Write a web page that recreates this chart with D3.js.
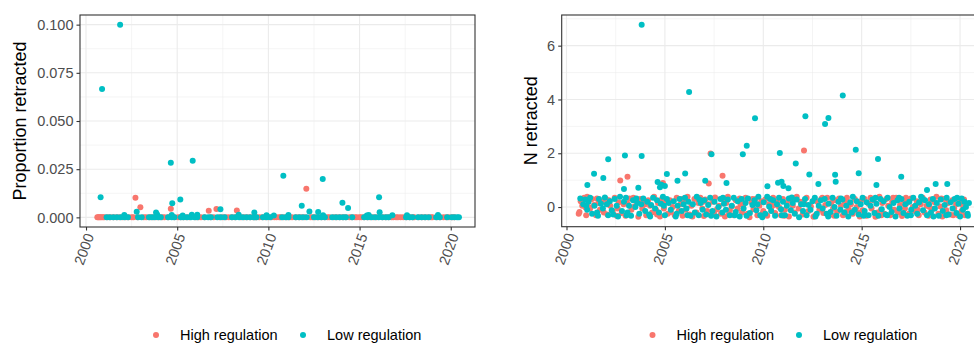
<!DOCTYPE html>
<html><head><meta charset="utf-8">
<script src="https://cdn.jsdelivr.net/npm/d3@7"></script>
<style>
html,body{margin:0;padding:0;background:#fff;}
svg{display:block;font-family:"Liberation Sans",Arial,Helvetica,sans-serif;}
</style></head>
<body><svg id="chart" width="974" height="343"></svg>
<script>
// ---------------- DATA ----------------
const groups = ["High regulation", "Low regulation"];
const groupColors = ["#F8766D", "#00BFC4"];

// Left panel: proportion retracted (nonzero observations)
const highPropPoints = [[2002.71,0.0102],[2002.98,0.0052],[2004.65,0.0045],[2006.73,0.0034],[2007.15,0.0043],[2008.27,0.0036],[2012.08,0.0149]];
const lowPropPoints = [[2001.87,0.100],[2000.88,0.0666],[2000.80,0.0104],[2004.65,0.0284],[2005.85,0.0294],[2010.82,0.0216],[2012.98,0.0199],[2016.07,0.0105],[2004.73,0.0073],[2005.17,0.0093],[2011.83,0.0060],[2014.06,0.0076],[2014.37,0.0048],[2002.78,0.0029],[2007.37,0.0042],[2012.25,0.0030],[2012.73,0.0028],[2016.10,0.0027],[2003.84,0.0025],[2009.23,0.0025],[2002.10,0.0012],[2003.90,0.0015],[2004.70,0.0012],[2005.30,0.0010],[2005.80,0.0013],[2006.10,0.0014],[2008.37,0.0013],[2009.90,0.0011],[2010.30,0.0010],[2011.10,0.0012],[2013.00,0.0011],[2015.40,0.0010],[2015.50,0.0012],[2016.80,0.0011],[2017.60,0.0011],[2019.30,0.0012]];
// Left panel: observations with proportion 0
const highZeroYears = [2000.62,2000.67,2000.72,2000.78,2000.85,2000.93,2001.0,2001.17,2001.33,2001.5,2001.67,2001.83,2002.0,2002.17,2002.33,2002.5,2002.6,2002.83,2003.17,2003.3,2003.5,2003.67,2003.83,2004.0,2004.17,2004.3,2004.5,2004.83,2005.05,2005.17,2005.33,2005.5,2005.67,2006.0,2006.17,2006.3,2006.5,2006.83,2007.0,2007.33,2007.5,2007.67,2007.83,2008.0,2008.17,2008.5,2008.67,2008.83,2009.0,2009.17,2009.33,2009.5,2009.67,2009.83,2010.0,2010.17,2010.33,2010.45,2010.6,2010.67,2010.83,2011.0,2011.17,2011.3,2011.5,2011.67,2011.83,2012.0,2012.3,2012.42,2012.58,2012.75,2012.92,2013.08,2013.25,2013.35,2013.58,2013.75,2013.92,2014.08,2014.25,2014.45,2014.58,2014.75,2014.85,2015.0,2015.1,2015.25,2015.42,2015.58,2015.75,2015.92,2016.25,2016.42,2016.58,2016.75,2016.85,2017.0,2017.1,2017.25,2017.4,2017.58,2017.75,2017.92,2018.0,2018.25,2018.42,2018.58,2018.75,2018.92,2019.0,2019.25,2019.42,2019.6,2019.75,2019.9,2020.08,2020.2];
const lowZeroYears = [2001.13,2001.3,2001.5,2001.7,2001.9,2002.1,2002.3,2002.85,2003.05,2003.45,2003.6,2003.75,2003.95,2004.1,2004.5,2004.7,2004.85,2005.2,2005.35,2005.55,2005.75,2005.95,2006.1,2006.5,2006.7,2006.85,2007.2,2007.4,2007.6,2008.0,2008.2,2008.4,2008.6,2008.8,2009.0,2009.2,2009.35,2009.7,2009.9,2010.1,2010.75,2010.95,2011.1,2011.5,2011.7,2011.9,2012.1,2012.5,2012.7,2012.9,2013.1,2013.5,2013.7,2013.9,2014.1,2014.25,2014.6,2015.25,2015.45,2015.65,2015.85,2016.05,2016.25,2016.45,2016.6,2017.55,2017.75,2017.9,2018.2,2018.4,2018.6,2018.8,2019.2,2019.4,2019.8,2020.05,2020.2,2020.35,2020.45];

// Right panel: N retracted (jittered positions as drawn)
const highCountPoints = [[2012.07,2.10],[2007.32,1.99],[2007.93,1.16],[2003.10,1.13],[2002.73,0.99],[2004.90,0.89],[2007.23,0.88],
[2000.62,-0.25],[2000.66,-0.18],[2000.72,0.22],[2000.8,0.05],[2000.9,0.35],[2000.97,-0.02],
[2001.05,0.38],[2001.12,0.0],[2001.2,-0.05],[2001.3,0.3],[2001.4,0.08],[2001.5,-0.3],[2001.62,0.15],[2001.7,-0.1],[2001.8,0.2],[2001.9,-0.2],
[2002.0,0.3],[2002.08,-0.28],[2002.15,0.25],[2002.22,0.05],[2002.35,-0.15],[2002.45,0.35],[2002.55,-0.32],[2002.65,0.18],[2002.8,-0.22],[2002.9,0.1],
[2003.0,-0.32],[2003.1,0.12],[2003.2,0.32],[2003.3,-0.1],[2003.45,0.02],[2003.55,0.22],[2003.65,-0.36],[2003.75,0.3],[2003.85,-0.05],[2003.95,0.2],
[2004.05,-0.3],[2004.15,0.25],[2004.25,0.05],[2004.35,-0.2],[2004.45,0.38],[2004.55,-0.1],[2004.65,0.15],[2004.75,-0.35],[2004.85,0.3],[2004.95,-0.05],
[2005.05,0.2],[2005.15,-0.25],[2005.25,0.25],[2005.4,0.0],[2005.5,-0.3],[2005.6,0.35],[2005.7,-0.15],[2005.8,0.1],[2005.9,-0.32],[2005.98,0.22],
[2006.05,-0.1],[2006.15,0.38],[2006.25,-0.28],[2006.35,0.05],[2006.5,0.3],[2006.6,-0.2],[2006.7,0.15],[2006.8,0.35],[2006.9,-0.05],[2006.98,-0.33],
[2007.05,0.28],[2007.15,-0.15],[2007.22,0.1],[2007.35,-0.3],[2007.45,0.2],[2007.55,0.36],[2007.65,-0.08],[2007.75,0.05],[2007.85,-0.25],[2007.95,0.3],
[2008.05,-0.35],[2008.12,0.15],[2008.2,0.38],[2008.3,-0.12],[2008.4,0.02],[2008.5,-0.3],[2008.6,0.25],[2008.7,-0.05],[2008.8,0.32],[2008.92,-0.2],
[2009.0,0.1],[2009.1,0.35],[2009.2,-0.25],[2009.3,-0.38],[2009.4,0.18],[2009.5,-0.08],[2009.6,0.3],[2009.7,-0.3],[2009.8,0.05],[2009.9,0.22],
[2010.0,-0.15],[2010.1,0.28],[2010.2,-0.32],[2010.3,0.1],[2010.4,-0.05],[2010.5,0.35],[2010.6,-0.22],[2010.7,0.2],[2010.8,0.0],[2010.9,-0.3],
[2011.0,0.3],[2011.1,-0.1],[2011.2,0.15],[2011.3,-0.35],[2011.4,0.25],[2011.5,0.05],[2011.6,-0.2],[2011.7,0.38],[2011.8,-0.05],[2011.9,0.2],
[2012.0,-0.28],[2012.1,0.12],[2012.2,0.35],[2012.3,-0.15],[2012.42,0.02],[2012.55,-0.36],[2012.65,-0.3],[2012.75,0.2],[2012.85,-0.1],[2012.95,0.3],
[2013.05,-0.22],[2013.15,0.08],[2013.25,0.35],[2013.35,-0.3],[2013.45,0.15],[2013.55,-0.05],[2013.65,0.25],[2013.75,-0.18],[2013.85,0.32],[2013.95,0.05],
[2014.05,-0.3],[2014.15,0.2],[2014.25,0.35],[2014.35,-0.1],[2014.45,0.1],[2014.55,-0.25],[2014.65,0.3],[2014.75,0.0],[2014.85,-0.2],[2014.95,0.22],
[2015.05,-0.12],[2015.15,0.3],[2015.25,-0.32],[2015.35,0.12],[2015.5,-0.05],[2015.6,0.25],[2015.7,-0.36],[2015.8,-0.2],[2015.9,0.38],[2015.98,-0.1],
[2016.05,0.15],[2016.15,-0.25],[2016.25,0.3],[2016.35,0.05],[2016.45,-0.3],[2016.55,0.2],[2016.65,-0.1],[2016.75,0.35],[2016.85,-0.2],[2016.95,0.08],
[2017.05,-0.33],[2017.12,0.25],[2017.2,-0.05],[2017.3,0.15],[2017.4,-0.25],[2017.5,0.32],[2017.6,0.0],[2017.7,-0.15],[2017.8,0.22],[2017.9,-0.3],
[2018.0,0.1],[2018.1,0.35],[2018.2,-0.2],[2018.3,0.05],[2018.4,-0.32],[2018.5,0.28],[2018.6,-0.08],[2018.7,0.18],[2018.8,0.38],[2018.9,-0.25],
[2019.0,0.02],[2019.1,-0.35],[2019.2,0.3],[2019.3,-0.12],[2019.4,0.15],[2019.5,-0.28],[2019.6,0.25],[2019.7,-0.05],[2019.8,0.1],[2019.9,-0.3],
[2020.0,0.2],[2020.08,-0.15],[2020.15,0.05],[2020.25,-0.3],
[2001.0,-0.3],[2001.55,0.32],[2002.6,-0.05],[2003.4,0.35],[2004.0,0.1],[2004.6,-0.28],[2005.3,-0.18],[2005.85,0.3],[2006.4,-0.35],[2006.95,0.2],[2007.5,-0.2],[2008.25,-0.28],[2008.85,0.1],[2009.45,0.3],[2009.95,-0.25],[2010.55,0.08],[2011.05,-0.32],[2011.55,0.32],[2012.6,0.28],[2013.0,0.35],[2013.6,-0.32],[2014.2,-0.18],[2014.9,-0.35],[2015.45,0.35],[2016.0,-0.3],[2016.6,0.35],[2017.25,0.35],[2017.85,-0.1],[2018.45,0.0],[2019.05,0.32],[2019.65,-0.3],[2020.2,0.28]];

const lowCountPoints = [[2003.82,6.78],[2006.23,4.28],[2014.04,4.15],[2009.58,3.30],[2012.14,3.38],[2013.14,3.09],[2013.31,3.31],[2009.16,2.28],[2008.96,1.96],[2007.37,1.96],[2010.84,2.01],[2014.70,2.13],[2002.97,1.92],[2003.82,1.90],[2002.12,1.78],[2015.83,1.79],[2011.65,1.62],
[2001.40,1.24],[2001.87,1.08],[2001.06,0.82],[2002.92,0.67],[2003.65,0.72],[2005.10,1.23],[2006.03,1.25],[2005.64,0.98],[2004.63,0.93],[2004.82,0.83],[2005.0,0.78],[2004.75,0.74],[2007.05,0.98],[2008.13,0.89],[2010.21,0.77],[2010.75,0.90],[2010.93,0.94],[2011.02,0.78],[2011.28,0.70],[2012.34,1.21],[2012.80,0.86],[2013.65,1.20],[2013.68,0.94],[2014.85,1.26],[2015.75,0.82],[2017.01,1.13],[2018.32,0.63],[2018.76,0.86],[2019.35,0.86],
[2000.7,0.32],[2000.85,0.1],[2000.95,0.28],
[2001.05,-0.1],[2001.12,0.2],[2001.2,0.35],[2001.3,-0.25],[2001.42,0.05],[2001.55,-0.2],[2001.65,0.3],[2001.75,0.12],[2001.85,-0.05],[2001.95,0.36],
[2002.05,0.1],[2002.12,-0.3],[2002.2,0.22],[2002.3,-0.12],[2002.45,0.3],[2002.55,0.05],[2002.62,-0.35],[2002.72,0.38],[2002.82,-0.15],[2002.92,0.2],
[2003.02,0.35],[2003.1,-0.2],[2003.18,0.05],[2003.28,-0.32],[2003.38,0.25],[2003.5,0.0],[2003.6,0.15],[2003.7,-0.25],[2003.8,0.1],[2003.9,0.32],
[2004.0,-0.15],[2004.1,0.2],[2004.2,-0.28],[2004.3,0.08],[2004.4,0.35],[2004.5,-0.05],[2004.6,0.25],[2004.7,-0.2],[2004.8,0.12],[2004.9,0.38],
[2005.0,-0.3],[2005.1,0.3],[2005.2,0.15],[2005.3,-0.1],[2005.45,0.22],[2005.55,-0.35],[2005.65,0.05],[2005.75,0.3],[2005.85,-0.15],[2005.95,0.1],
[2006.02,0.35],[2006.1,-0.05],[2006.2,0.2],[2006.3,-0.32],[2006.42,0.1],[2006.52,-0.2],[2006.62,0.38],[2006.72,-0.3],[2006.82,0.15],[2006.92,-0.1],
[2007.0,0.25],[2007.1,-0.28],[2007.2,0.08],[2007.3,0.35],[2007.42,-0.15],[2007.52,0.2],[2007.62,-0.35],[2007.72,0.0],[2007.82,0.3],[2007.92,-0.2],
[2008.0,0.12],[2008.1,-0.1],[2008.2,0.28],[2008.3,-0.3],[2008.4,0.05],[2008.5,0.35],[2008.6,-0.18],[2008.7,0.22],[2008.8,-0.35],[2008.9,0.3],
[2009.0,-0.05],[2009.1,0.15],[2009.22,0.32],[2009.32,-0.22],[2009.45,0.08],[2009.55,0.25],[2009.65,-0.12],[2009.75,0.38],[2009.85,-0.3],[2009.95,-0.38],
[2010.02,0.18],[2010.1,-0.25],[2010.2,0.38],[2010.3,0.02],[2010.4,-0.15],[2010.5,0.25],[2010.6,-0.32],[2010.7,0.1],[2010.8,0.35],[2010.9,-0.08],
[2011.0,0.2],[2011.1,-0.3],[2011.2,0.05],[2011.3,0.32],[2011.4,-0.12],[2011.5,0.15],[2011.6,-0.25],[2011.7,0.28],[2011.82,-0.38],[2011.92,0.1],
[2012.02,-0.15],[2012.12,0.3],[2012.2,-0.3],[2012.3,0.08],[2012.4,-0.1],[2012.5,0.22],[2012.62,0.35],[2012.72,-0.25],[2012.82,0.05],[2012.92,0.25],
[2013.02,-0.05],[2013.12,0.3],[2013.22,-0.25],[2013.32,0.12],[2013.42,-0.18],[2013.52,0.35],[2013.62,0.0],[2013.72,-0.32],[2013.82,0.2],[2013.92,-0.1],
[2014.02,0.28],[2014.12,-0.2],[2014.22,0.05],[2014.32,-0.35],[2014.42,0.18],[2014.55,0.38],[2014.65,-0.1],[2014.75,0.22],[2014.85,-0.28],[2014.95,0.1],
[2015.05,0.35],[2015.15,-0.15],[2015.25,0.18],[2015.35,-0.3],[2015.45,0.05],[2015.55,0.28],[2015.65,-0.22],[2015.75,0.12],[2015.85,-0.32],[2015.95,0.3],
[2016.02,-0.08],[2016.12,0.22],[2016.22,-0.28],[2016.32,0.35],[2016.42,0.0],[2016.52,-0.18],[2016.62,0.15],[2016.72,-0.35],[2016.82,0.25],[2016.92,-0.05],
[2017.02,0.3],[2017.12,-0.22],[2017.22,0.1],[2017.32,-0.32],[2017.42,0.2],[2017.52,-0.1],[2017.62,0.35],[2017.72,0.05],[2017.82,-0.25],[2017.92,0.18],
[2018.02,0.38],[2018.12,-0.12],[2018.22,0.25],[2018.32,-0.3],[2018.42,0.1],[2018.52,-0.2],[2018.62,0.3],[2018.72,-0.05],[2018.82,0.15],[2018.92,-0.32],
[2019.02,0.28],[2019.12,-0.15],[2019.22,0.08],[2019.32,0.35],[2019.42,-0.28],[2019.52,0.18],[2019.62,-0.05],[2019.72,0.3],[2019.82,-0.22],[2019.92,0.12],
[2020.0,-0.35],[2020.08,0.32],[2020.15,-0.1],[2020.22,0.2],[2020.3,0.0],[2020.38,-0.25],[2020.45,0.15],
[2001.0,0.05],[2001.6,-0.32],[2002.38,-0.28],[2003.05,-0.3],[2003.55,0.32],[2004.25,-0.35],[2004.95,0.05],[2005.6,-0.25],[2006.15,-0.3],[2006.75,0.28],[2007.35,-0.32],[2007.95,0.35],[2008.55,-0.3],[2009.15,-0.32],[2009.7,0.1],[2010.35,0.3],[2010.95,-0.3],[2011.45,0.36],[2012.05,0.1],[2012.65,-0.35],[2013.3,-0.35],[2013.95,0.32],[2014.5,-0.2],[2015.1,-0.32],[2015.7,0.35],[2016.3,-0.3],[2016.9,0.35],[2017.5,-0.3],[2018.1,0.3],[2018.65,-0.35],[2019.3,-0.3],[2019.85,0.35],[2020.4,-0.32]];

const xTicks = [2000, 2005, 2010, 2015, 2020];
const xMinorTicks = [2002.5, 2007.5, 2012.5, 2017.5];
const leftYTicks = [0, 0.025, 0.05, 0.075, 0.1];
const leftYMinor = [0.0125, 0.0375, 0.0625, 0.0875];
const rightYTicks = [0, 2, 4, 6];
const rightYMinor = [1, 3, 5, 7];

// ---------------- DRAW ----------------
const svg = d3.select("#chart");
const FONT_TICK = 14.5, FONT_TITLE = 18, FONT_LEG = 14.5;

function panel(cfg) {
  const g = svg.append("g");
  const x = d3.scaleLinear().domain(cfg.xDomain).range([cfg.x0, cfg.x1]);
  const y = d3.scaleLinear().domain(cfg.yDomain).range([cfg.y1, cfg.y0]);
  const clipId = "clip" + cfg.id;
  svg.append("defs").append("clipPath").attr("id", clipId)
    .append("rect").attr("x", cfg.x0).attr("y", cfg.y0).attr("width", cfg.x1 - cfg.x0).attr("height", cfg.y1 - cfg.y0);
  const grid = g.append("g").attr("clip-path", `url(#${clipId})`);
  grid.selectAll(".ym").data(cfg.yMinor).join("line")
    .attr("x1", cfg.x0).attr("x2", cfg.x1).attr("y1", d => y(d)).attr("y2", d => y(d))
    .attr("stroke", "#EBEBEB").attr("stroke-width", 0.55);
  grid.selectAll(".xm").data(xMinorTicks).join("line")
    .attr("y1", cfg.y0).attr("y2", cfg.y1).attr("x1", d => x(d)).attr("x2", d => x(d))
    .attr("stroke", "#EBEBEB").attr("stroke-width", 0.55);
  grid.selectAll(".yM").data(cfg.yTicks).join("line")
    .attr("x1", cfg.x0).attr("x2", cfg.x1).attr("y1", d => y(d)).attr("y2", d => y(d))
    .attr("stroke", "#EBEBEB").attr("stroke-width", 1.1);
  grid.selectAll(".xM").data(xTicks).join("line")
    .attr("y1", cfg.y0).attr("y2", cfg.y1).attr("x1", d => x(d)).attr("x2", d => x(d))
    .attr("stroke", "#EBEBEB").attr("stroke-width", 1.1);

  const pts = g.append("g");
  cfg.series.forEach((s, i) => {
    pts.append("g").selectAll("circle").data(s).join("circle")
      .attr("cx", d => x(d[0])).attr("cy", d => y(d[1])).attr("r", 3)
      .attr("fill", groupColors[cfg.seriesGroup[i]]);
  });

  g.append("rect").attr("x", cfg.x0).attr("y", cfg.y0)
    .attr("width", cfg.x1 - cfg.x0).attr("height", cfg.y1 - cfg.y0)
    .attr("fill", "none").attr("stroke", "#333333").attr("stroke-width", 1.1);

  const yAxis = d3.axisLeft(y).tickValues(cfg.yTicks).tickFormat(cfg.yFormat).tickSize(3.5).tickPadding(3);
  const ya = g.append("g").attr("transform", `translate(${cfg.x0},0)`).call(yAxis);
  ya.select(".domain").remove();
  ya.selectAll("line").attr("stroke", "#333333").attr("stroke-width", 1.1);
  ya.selectAll("text").attr("fill", "#4D4D4D").style("font-size", FONT_TICK + "px")
    .style("font-family", '"Liberation Sans",Arial,sans-serif');

  const xAxis = d3.axisBottom(x).tickValues(xTicks).tickFormat(d3.format("d")).tickSize(3.5);
  const xa = g.append("g").attr("transform", `translate(0,${cfg.y1})`).call(xAxis);
  xa.select(".domain").remove();
  xa.selectAll("line").attr("stroke", "#333333").attr("stroke-width", 1.1);
  xa.selectAll("text").attr("fill", "#4D4D4D").style("font-size", FONT_TICK + "px")
    .style("font-family", '"Liberation Sans",Arial,sans-serif')
    .attr("y", null).attr("dy", "0.35em").attr("text-anchor", "end")
    .attr("transform", "translate(3,7) rotate(-70)");

  svg.append("text").attr("transform", `translate(${cfg.titleX},${(cfg.y0 + cfg.y1) / 2}) rotate(-90)`)
    .attr("text-anchor", "middle").attr("dy", "0.35em").style("font-size", FONT_TITLE + "px")
    .attr("fill", "#000").text(cfg.title);

  const lg = svg.append("g");
  groups.forEach((name, i) => {
    lg.append("circle").attr("cx", cfg.legX[i]).attr("cy", 335).attr("r", 3).attr("fill", groupColors[i]);
    lg.append("text").attr("x", cfg.legX[i] + 24).attr("y", 335).attr("dy", "0.35em")
      .style("font-size", FONT_LEG + "px").attr("fill", "#000").text(name);
  });
}

const highZeroPts = highZeroYears.map(v => [v, 0]);
const lowZeroPts = lowZeroYears.map(v => [v, 0]);

panel({
  id: "L", x0: 80, x1: 475, y0: 15, y1: 227,
  xDomain: [1999.67, 2021.33], yDomain: [-0.005, 0.105],
  yTicks: leftYTicks, yMinor: leftYMinor, yFormat: d3.format(".3f"),
  series: [highZeroPts, highPropPoints, lowZeroPts, lowPropPoints], seriesGroup: [0, 0, 1, 1],
  title: "Proportion retracted", titleX: 20, legX: [156, 303]
});

panel({
  id: "R", x0: 561.7, x1: 988, y0: 15, y1: 226.7,
  xDomain: [1999.756, 2021.42], yDomain: [-0.73, 7.14],
  yTicks: rightYTicks, yMinor: rightYMinor, yFormat: d3.format("d"),
  series: [highCountPoints, lowCountPoints], seriesGroup: [0, 1],
  title: "N retracted", titleX: 531, legX: [652.5, 799]
});
</script>
</body></html>
